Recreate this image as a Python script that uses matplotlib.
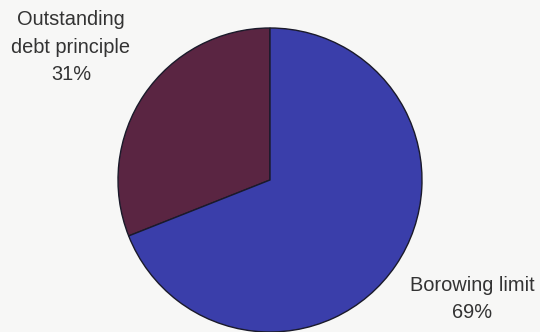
import matplotlib.pyplot as plt

labels = ["Outstanding\ndebt principle", "Borowing limit"]
shares = [31, 69]
colors = ["#5a2542", "#3a3eaa"]

# label positions in pie units (radius = 1), baseline of the last line
label_x = [-1.31, 1.33]
label_y = [0.658, -0.908]


def main():
    plt.rcParams["font.family"] = ["Liberation Sans", "DejaVu Sans"]
    fig = plt.figure(figsize=(5.4, 3.32), dpi=100, facecolor="#f7f7f6")
    ax = fig.add_axes([0, 0, 1, 1])
    ax.set_facecolor("#f7f7f6")

    ax.pie(shares, colors=colors, startangle=90, counterclock=True,
           radius=1.0, center=(0, 0),
           wedgeprops={"edgecolor": "#1a1a2a", "linewidth": 1.0})

    for name, pct, x, y in zip(labels, shares, label_x, label_y):
        ax.text(x, y, f"{name}\n{pct}%", ha="center", va="baseline",
                fontsize=14.4, color="#333333", linespacing=1.55)

    ax.set_xlim(-270 / 152, 270 / 152)
    ax.set_ylim(-152 / 152, 180 / 152)
    ax.set_aspect("auto")
    ax.axis("off")

    fig.savefig("out.png", dpi=100, facecolor=fig.get_facecolor())


if __name__ == "__main__":
    main()
